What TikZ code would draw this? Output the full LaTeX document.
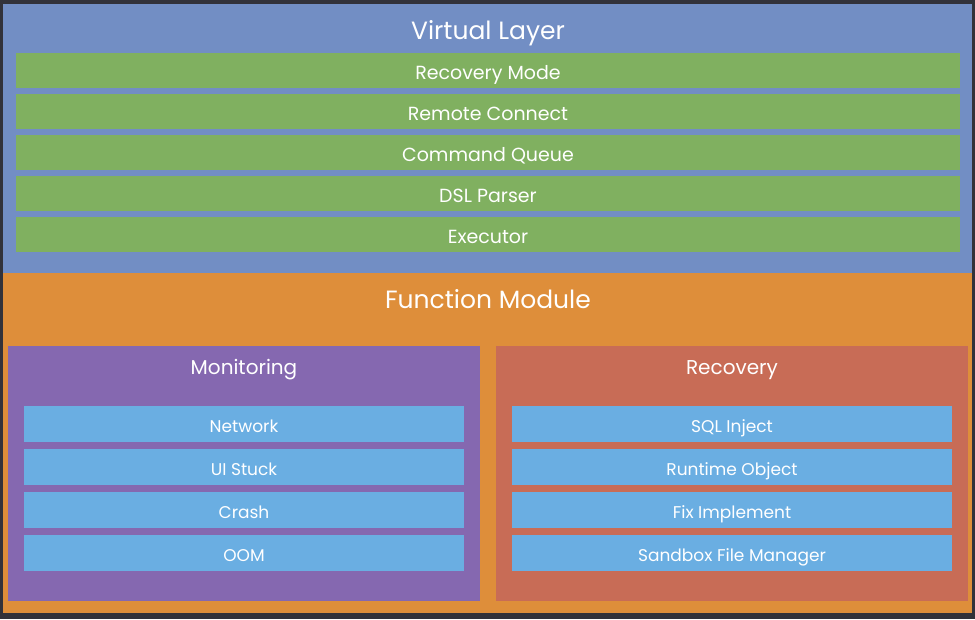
\documentclass[tikz,border=0pt]{standalone}
\usepackage{fontspec}
\setmainfont{Poppins}
\usetikzlibrary{positioning}

\definecolor{bgdark}{RGB}{50,50,58}
\definecolor{layerblue}{RGB}{114,142,196}
\definecolor{bargreen}{RGB}{128,176,96}
\definecolor{modorange}{RGB}{222,142,58}
\definecolor{monpurple}{RGB}{133,104,176}
\definecolor{recred}{RGB}{200,108,86}
\definecolor{itemblue}{RGB}{106,174,226}

\tikzset{
  panel/.style={inner sep=0pt, anchor=north west},
  title/.style={text=white, anchor=base, font=\fontsize{25}{30}\selectfont},
  subtitle/.style={text=white, anchor=base, font=\fontsize{20}{24}\selectfont},
  greenbar/.style={fill=bargreen, minimum width=944pt, minimum height=35pt, inner sep=0pt,
    text height=18pt, text depth=0pt, text=white, font=\fontsize{19}{22}\selectfont},
  itembar/.style={fill=itemblue, minimum width=440pt, minimum height=36pt, inner sep=0pt,
    text height=16pt, text depth=0pt, text=white, font=\fontsize{17}{20}\selectfont}
}

\begin{document}
\begin{tikzpicture}[x=1pt,y=-1pt]
\fill[bgdark] (0,0) rectangle (975,619);

% virtual layer
\node[panel, fill=layerblue, minimum width=969pt, minimum height=269pt] (virtual) at (3,4) {};
\node[title] (virtualtitle) at (488,39) {Virtual Layer};
\foreach \i/\t in {0/Recovery Mode,1/Remote Connect,2/Command Queue,3/DSL Parser,4/Executor}
  \node[greenbar] (vbar\i) at (488,70.5+41*\i) {\t};

% function module
\node[panel, fill=modorange, minimum width=969pt, minimum height=340pt] (function) at (3,273) {};
\node[title] (functiontitle) at (488,308) {Function Module};

\node[panel, fill=monpurple, minimum width=472pt, minimum height=255pt] (monitor) at (8,346) {};
\node[panel, fill=recred, minimum width=472pt, minimum height=255pt] (recover) at (496,346) {};
\node[subtitle] (monitortitle) at (244,374) {Monitoring};
\node[subtitle] (recovertitle) at (732,374) {Recovery};

\foreach \i/\t in {0/Network,1/UI Stuck,2/Crash,3/OOM}
  \node[itembar] (mbar\i) at (244,424+43*\i) {\t};
\foreach \i/\t in {0/SQL Inject,1/Runtime Object,2/Fix Implement,3/Sandbox File Manager}
  \node[itembar] (rbar\i) at (732,424+43*\i) {\t};

\end{tikzpicture}
\end{document}
